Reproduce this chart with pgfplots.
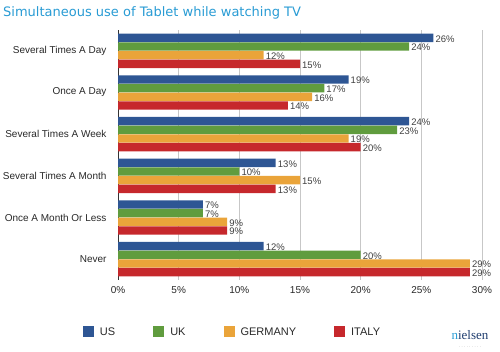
\documentclass[border=0pt]{standalone}
\usepackage{pgfplots}
\usepackage{pgfplotstable}
\pgfplotsset{compat=1.18}
\usepackage{fontspec}
\setmainfont{Liberation Sans}
\newfontfamily\titlefont{DejaVu Sans}
\newfontfamily\logofont{Liberation Serif}
\definecolor{cUS}{RGB}{46,86,148}
\definecolor{cUK}{RGB}{96,156,62}
\definecolor{cGER}{RGB}{234,164,58}
\definecolor{cITA}{RGB}{198,40,44}
\definecolor{ctitle}{RGB}{40,155,212}
\definecolor{clab}{RGB}{40,40,40}
\pgfplotstableread{
y US UK GER ITA
5 26 24 12 15
4 19 17 16 14
3 24 23 19 20
2 13 10 15 13
1 7 7 9 9
0 12 20 29 29
}\data
\begin{document}
\begin{tikzpicture}
\useasboundingbox (0pt,0pt) rectangle (500pt,352pt);
\node[anchor=west, text=ctitle, font=\titlefont\fontsize{13}{15}\selectfont, inner sep=0pt] at (3pt,339pt) {Simultaneous use of Tablet while watching TV};
\begin{axis}[
  at={(118pt,72pt)}, anchor=south west,
  scale only axis, width=364pt, height=250pt,
  xbar, bar width=8.4pt,
  xmin=0, xmax=30, ymin=-0.5, ymax=5.5,
  xtick={0,5,...,30},
  /pgf/number format/assume math mode=true,
  xticklabel={\pgfmathprintnumber{\tick}\%},
  ytick={0,...,5},
  yticklabels={Never, Once A Month Or Less, Several Times A Month, Several Times A Week, Once A Day, Several Times A Day},
  major tick length=0pt,
  xmajorgrids, major grid style={draw=black!22, line width=0.6pt},
  axis x line*=bottom, x axis line style={draw=none},
  axis y line*=left, y axis line style={draw=black!80, line width=0.8pt, -},
  tick label style={font=\fontsize{10}{12}\selectfont, text=clab},
  xticklabel style={yshift=-3pt},
  yticklabel style={xshift=-8pt},
  clip=false,
  point meta=x,
  nodes near coords={\pgfmathprintnumber{\pgfplotspointmeta}\%},
  nodes near coords style={font=\fontsize{9.5}{11}\selectfont, text=black!75, inner sep=2pt, yshift=-1pt},
  legend columns=4,
  legend style={draw=none, fill=none, at={(rel axis cs:-0.105,-0.208)}, anchor=west,
    font=\fontsize{11}{13}\selectfont, text=clab,
    /tikz/every odd column/.append style={column sep=4pt},
    /tikz/every even column/.append style={column sep=36pt}},
  legend image code/.code={\fill[#1] (0pt,-5.5pt) rectangle (11pt,5.5pt);},
]
\addplot[fill=cUS, draw=none, bar shift=13pt] table[x=US,y=y] \data;
\addplot[fill=cUK, draw=none, bar shift=4.33pt] table[x=UK,y=y] \data;
\addplot[fill=cGER, draw=none, bar shift=-4.33pt] table[x=GER,y=y] \data;
\addplot[fill=cITA, draw=none, bar shift=-13pt] table[x=ITA,y=y] \data;
\legend{US, UK, GERMANY, ITALY}
\end{axis}
\node[anchor=center, font=\logofont\fontsize{13}{14}\selectfont, inner sep=0pt] at (470pt,17pt) {{\color{ctitle}n}{\color[RGB]{30,60,110}ielsen}};
\node[anchor=center, font=\fontsize{4}{4}\selectfont, text=black!50, inner sep=0pt] at (470pt,5pt) {. . . . . . . . .};
\end{tikzpicture}
\end{document}
